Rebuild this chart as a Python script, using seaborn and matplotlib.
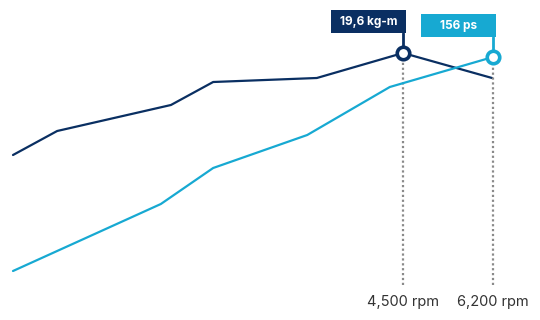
import matplotlib
matplotlib.use("Agg")
import matplotlib.pyplot as plt
import seaborn as sns
import pandas as pd
from matplotlib.patches import Rectangle
from matplotlib.lines import Line2D

# ---- data ----
torque_pos = [0, 9.2, 32.9, 41.7, 63.3, 81.25, 99.8]
torque_kgm = [14.5, 15.7, 17.0, 18.15, 18.35, 19.6, 18.35]
power_pos = [0, 30.8, 41.7, 61.3, 78.5, 100]
power_ps = [49, 82.5, 100.5, 117, 141, 156]
peak_labels = ["19,6 kg-m", "156 ps"]
tick_labels = ["4,500 rpm", "6,200 rpm"]

NAVY = "#0a2f62"
CYAN = "#17a9d2"

sns.set_theme(style="white")
plt.rcParams["font.family"] = ["Inter", "DejaVu Sans"]

fig = plt.figure(figsize=(5.4, 3.2), dpi=100)
ax = fig.add_axes([13 / 540, 35 / 320, 480 / 540, 265 / 320])
ax2 = ax.twinx()

df_t = pd.DataFrame({"pos": torque_pos, "val": torque_kgm})
df_p = pd.DataFrame({"pos": power_pos, "val": power_ps})

sns.lineplot(data=df_t, x="pos", y="val", ax=ax, color=NAVY, lw=1.6, clip_on=False)
sns.lineplot(data=df_p, x="pos", y="val", ax=ax2, color=CYAN, lw=1.6, clip_on=False)

ax.set_xlim(0, 100)
ax.set_ylim(8.0, 21.25)
ax2.set_ylim(42.0, 174.5)

for a in (ax, ax2):
    for s in a.spines.values():
        s.set_visible(False)
    a.set_ylabel("")
    a.set_xlabel("")
    a.set_yticks([])
    a.set_facecolor("none")

# peaks
it = torque_kgm.index(max(torque_kgm))
ip = power_ps.index(max(power_ps))
peaks = [(ax, torque_pos[it], torque_kgm[it], NAVY, peak_labels[0]),
         (ax2, power_pos[ip], power_ps[ip], CYAN, peak_labels[1])]

ax.set_xticks([torque_pos[it], power_pos[ip]])
ax.set_xticklabels(tick_labels, fontsize=10.5, color="#333333")
ax.tick_params(axis="x", length=0, pad=7)

fig.canvas.draw()
for a, x, y, c, lab in peaks:
    lo = a.get_ylim()[0]
    a.vlines(x, lo, y, colors="#8a8a8a", linestyles=(0, (1, 1.2)), lw=1.6, zorder=1, clip_on=False)
    a.plot([x], [y], marker="o", ms=9, mfc="white", mec=c, mew=2.6, zorder=5, clip_on=False)
    px, py = a.transData.transform((x, y))
    # connector
    fig.add_artist(Line2D([px, px], [py + 6, py + 20], color=c, lw=2, transform=None))
    # box
    fig.add_artist(Rectangle((px - 72, py + 20), 75, 23, facecolor=c, edgecolor="none", transform=None))
    fig.text((px - 72 + 37.5) / 540, (py + 20 + 11.5) / 320, lab, color="white",
             fontsize=8.5, fontweight="bold", ha="center", va="center")

fig.savefig("out.png", dpi=100)
